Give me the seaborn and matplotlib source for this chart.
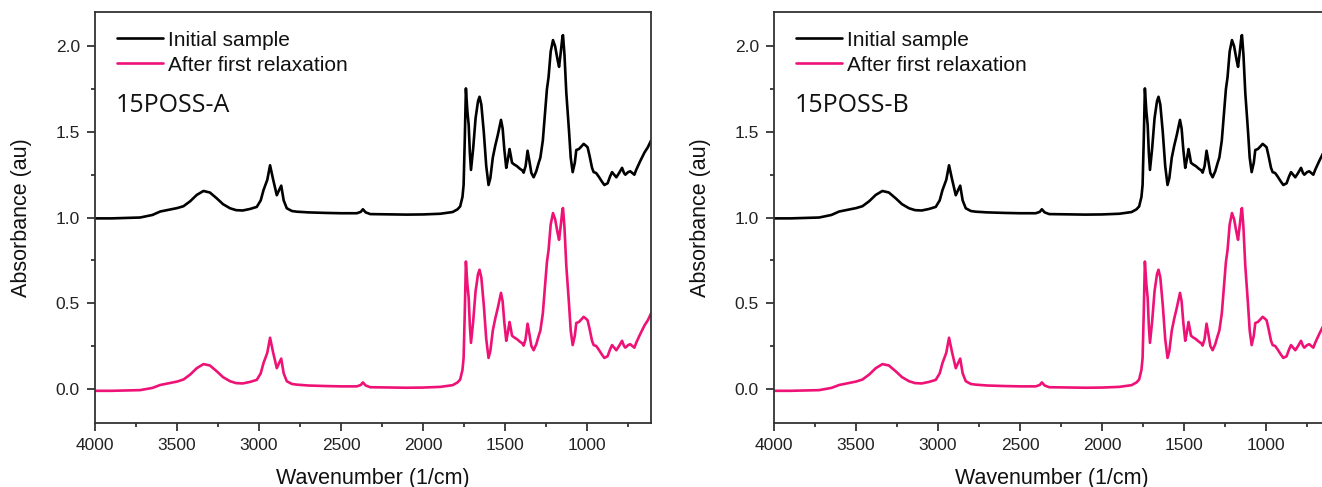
import seaborn as sns
import matplotlib.pyplot as plt
from matplotlib.ticker import MultipleLocator
import pandas as pd

# wavenumbers (1/cm)
wavenumber = [
    4000, 3900, 3800, 3725, 3650, 3603, 3550, 3500, 3461, 3420,
    3380, 3339, 3300, 3258, 3220, 3177, 3140, 3100, 3055, 3014,
    2990, 2973, 2950, 2933, 2915, 2892, 2878, 2865, 2850, 2831,
    2800, 2770, 2700, 2600, 2500, 2404, 2380, 2367, 2350, 2322,
    2200, 2100, 2000, 1895, 1820, 1790, 1774, 1760, 1753, 1746,
    1739, 1730, 1722, 1715, 1708, 1695, 1680, 1665, 1656, 1645,
    1630, 1615, 1601, 1590, 1575, 1560, 1545, 1525, 1515, 1505,
    1493, 1483, 1473, 1465, 1458, 1445, 1428, 1410, 1395, 1387,
    1375, 1363, 1352, 1340, 1326, 1310, 1295, 1285, 1270, 1255,
    1245, 1235, 1222, 1208, 1195, 1180, 1171, 1160, 1150, 1147,
    1138, 1127, 1110, 1100, 1088, 1075, 1066, 1050, 1035, 1021,
    1008, 997, 985, 970, 960, 945, 930, 910, 895, 875,
    860, 848, 835, 822, 805, 787, 775, 767, 750, 737,
    725, 712, 700, 676, 650, 630, 610,
]

# initial sample (offset spectrum, top)
initial = [
    0.995, 0.995, 0.998, 1.000, 1.015, 1.035, 1.045, 1.055, 1.066, 1.095,
    1.132, 1.155, 1.146, 1.112, 1.078, 1.054, 1.043, 1.041, 1.050, 1.062,
    1.100, 1.160, 1.220, 1.305, 1.225, 1.130, 1.160, 1.186, 1.100, 1.054,
    1.038, 1.034, 1.030, 1.027, 1.025, 1.025, 1.033, 1.048, 1.030, 1.020,
    1.018, 1.017, 1.018, 1.022, 1.032, 1.048, 1.065, 1.120, 1.190, 1.450,
    1.754, 1.620, 1.540, 1.380, 1.278, 1.400, 1.580, 1.680, 1.705, 1.660,
    1.500, 1.300, 1.190, 1.230, 1.350, 1.420, 1.480, 1.570, 1.520, 1.400,
    1.290, 1.340, 1.400, 1.360, 1.320, 1.310, 1.300, 1.285, 1.275, 1.262,
    1.300, 1.390, 1.330, 1.260, 1.235, 1.270, 1.320, 1.350, 1.450, 1.630,
    1.750, 1.820, 1.970, 2.036, 2.000, 1.920, 1.880, 1.970, 2.060, 2.065,
    1.950, 1.730, 1.500, 1.350, 1.265, 1.320, 1.394, 1.400, 1.415, 1.430,
    1.420, 1.410, 1.360, 1.290, 1.265, 1.260, 1.240, 1.210, 1.190, 1.200,
    1.240, 1.265, 1.250, 1.235, 1.260, 1.290, 1.260, 1.250, 1.265, 1.270,
    1.260, 1.250, 1.280, 1.330, 1.380, 1.410, 1.450,
]

# after first relaxation (bottom)
relaxed = [
    -0.012, -0.012, -0.010, -0.008, 0.005, 0.022, 0.032, 0.042, 0.054, 0.083,
    0.120, 0.144, 0.136, 0.102, 0.068, 0.044, 0.033, 0.031, 0.040, 0.052,
    0.090, 0.150, 0.210, 0.298, 0.215, 0.120, 0.150, 0.176, 0.090, 0.044,
    0.028, 0.024, 0.019, 0.016, 0.014, 0.014, 0.022, 0.037, 0.019, 0.009,
    0.007, 0.006, 0.007, 0.011, 0.021, 0.037, 0.054, 0.110, 0.180, 0.440,
    0.743, 0.610, 0.530, 0.370, 0.268, 0.390, 0.570, 0.670, 0.695, 0.650,
    0.490, 0.290, 0.180, 0.220, 0.340, 0.410, 0.470, 0.560, 0.510, 0.390,
    0.280, 0.330, 0.390, 0.350, 0.310, 0.300, 0.290, 0.275, 0.265, 0.252,
    0.290, 0.380, 0.320, 0.250, 0.225, 0.260, 0.310, 0.340, 0.440, 0.620,
    0.740, 0.810, 0.960, 1.026, 0.990, 0.910, 0.870, 0.960, 1.050, 1.055,
    0.940, 0.720, 0.490, 0.340, 0.255, 0.310, 0.384, 0.390, 0.405, 0.420,
    0.410, 0.400, 0.350, 0.280, 0.255, 0.250, 0.230, 0.200, 0.180, 0.190,
    0.230, 0.255, 0.240, 0.225, 0.250, 0.280, 0.250, 0.240, 0.255, 0.260,
    0.250, 0.240, 0.270, 0.320, 0.370, 0.400, 0.440,
]

samples = ["15POSS-A", "15POSS-B"]
series_names = ["Initial sample", "After first relaxation"]
colors = ["#000000", "#EE1277"]

sns.set_theme(style="ticks")
plt.rcParams["font.family"] = ["Liberation Sans", "DejaVu Sans"]
plt.rcParams["text.color"] = "#111111"
plt.rcParams["axes.labelcolor"] = "#111111"
plt.rcParams["xtick.color"] = "#222222"
plt.rcParams["ytick.color"] = "#222222"

df = pd.DataFrame({
    "wn": wavenumber * 2,
    "A": initial + relaxed,
    "series": [series_names[0]] * len(wavenumber) + [series_names[1]] * len(wavenumber),
})

fig = plt.figure(figsize=(13.22, 4.87), dpi=100)
ax_w, ax_h = 0.4206, 0.8439
lefts = [0.0719, 0.5855]

for name, left in zip(samples, lefts):
    ax = fig.add_axes([left, 0.1314, ax_w, ax_h])
    sns.lineplot(data=df, x="wn", y="A", hue="series", palette=colors,
                 sort=False, estimator=None, lw=1.9, ax=ax)
    ax.set_xlim(4000, 610)
    ax.set_ylim(-0.2, 2.2)
    ax.xaxis.set_major_locator(MultipleLocator(500))
    ax.xaxis.set_minor_locator(MultipleLocator(250))
    ax.yaxis.set_major_locator(MultipleLocator(0.5))
    ax.yaxis.set_minor_locator(MultipleLocator(0.25))
    ax.yaxis.set_major_formatter(plt.FormatStrFormatter("%.1f"))
    ax.tick_params(which="major", direction="out", length=6, width=1.2,
                   labelsize=12.5, pad=5)
    ax.tick_params(which="minor", direction="out", length=3, width=1.2)
    for sp in ax.spines.values():
        sp.set_linewidth(1.3)
        sp.set_color("#333333")
    ax.set_xlabel("Wavenumber (1/cm)", fontsize=15.5)
    ax.set_ylabel("Absorbance (au)", fontsize=15.5)
    ax.xaxis.set_label_coords(0.5, -0.11)
    ax.yaxis.set_label_coords(-0.113, 0.5)
    ax.legend(loc="upper left", bbox_to_anchor=(0.039, 0.955), frameon=False,
              fontsize=15, handlelength=2.2, handletextpad=0.25,
              labelspacing=0.3, borderpad=0, borderaxespad=0)
    ax.text(0.038, 0.757, name, transform=ax.transAxes, va="baseline",
            ha="left", fontsize=18, family=["Open Sans", "DejaVu Sans"])

fig.savefig("out.png", dpi=100)
